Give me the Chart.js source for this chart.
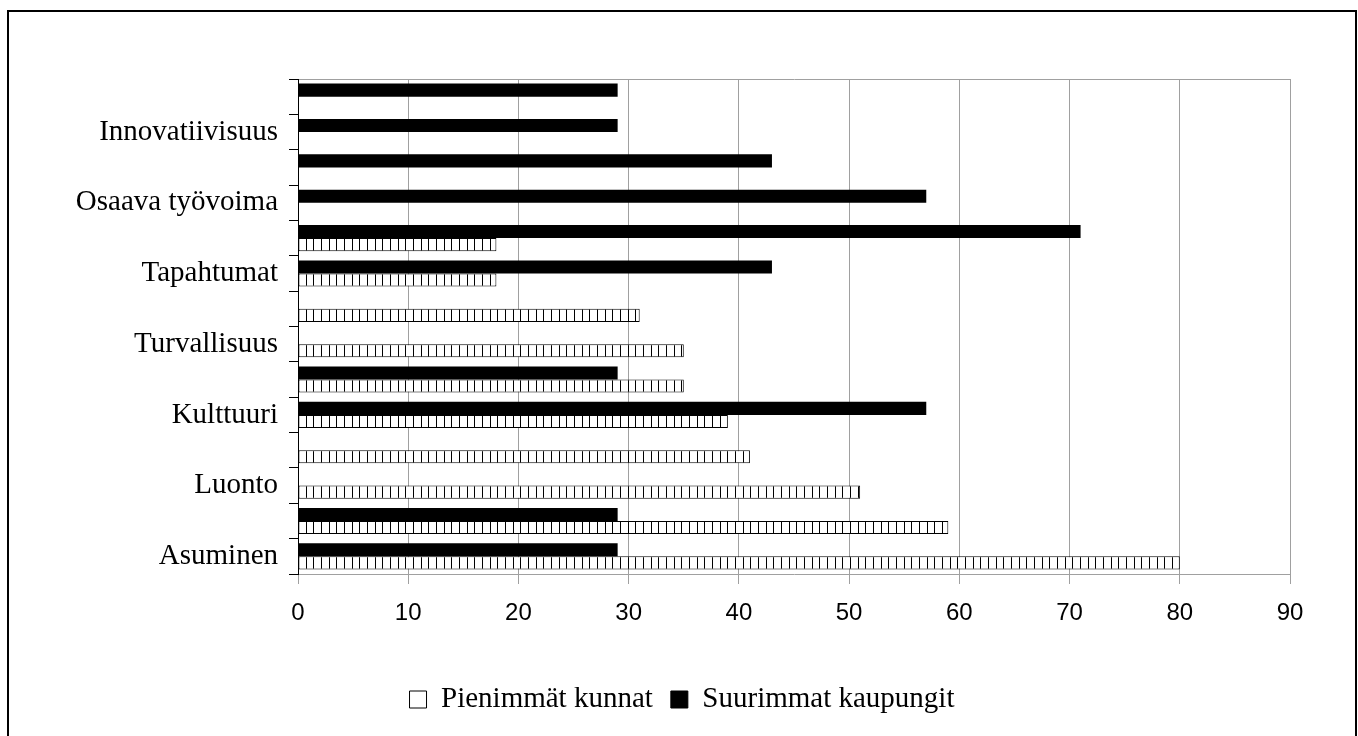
<!DOCTYPE html>
<html>
<head>
<meta charset="utf-8">
<script src="https://cdn.jsdelivr.net/npm/chart.js@4/dist/chart.umd.min.js"></script>
<style>
  html, body { margin: 0; padding: 0; background: #fff; }
  #wrap { position: relative; width: 1358px; height: 736px; }
</style>
</head>
<body>
<div id="wrap"><canvas id="c" width="1358" height="736"></canvas></div>
<script>
// Categories listed top to bottom (labels of alternate categories are not shown in the source)
const categories = ['', 'Innovatiivisuus', '', 'Osaava työvoima', '', 'Tapahtumat', '', 'Turvallisuus', '', 'Kulttuuri', '', 'Luonto', '', 'Asuminen'];
const suurimmatKaupungit = [29, 29, 43, 57, 71, 43, null, null, 29, 57, null, null, 29, 29];
const pienimmatKunnat   = [null, null, null, null, 18, 18, 31, 35, 35, 39, 41, 51, 59, 80];
const seriesNames = ['Pienimmät kunnat', 'Suurimmat kaupungit'];
const xMin = 0, xMax = 90, xStep = 10;

// hatch pattern (vertical lines on white)
const tile = document.createElement('canvas');
tile.width = 23; tile.height = 4;
const tc = tile.getContext('2d');
tc.fillStyle = '#fff'; tc.fillRect(0, 0, 23, 4);
tc.fillStyle = '#000';
[0, 8, 15].forEach(x => tc.fillRect(x, 0, 1, 4));
const ctx = document.getElementById('c').getContext('2d');
const hatch = ctx.createPattern(tile, 'repeat');
hatch.setTransform(new DOMMatrix([1, 0, 0, 1, 298, 0]));

const GRAY = '#a0a0a0';

const frame = {
  id: 'frame',
  beforeDraw(chart) {
    const c = chart.ctx;
    c.save();
    c.fillStyle = '#fff';
    c.fillRect(0, 0, chart.width, chart.height);
    c.restore();
  },
  afterDraw(chart) {
    const c = chart.ctx;
    c.save();
    c.strokeStyle = '#000';
    c.lineWidth = 2;
    c.strokeRect(8, 11, 1348, 740);
    c.restore();
  },
  afterLayout(chart) {
    const lg = chart.legend;
    if (!lg) return;
    const d = 682 - (lg.left + lg.right) / 2;
    lg.left += d; lg.right += d;
  }
};

new Chart(ctx, {
  type: 'bar',
  data: {
    labels: categories,
    datasets: [
      {
        label: seriesNames[1],
        data: suurimmatKaupungit,
        backgroundColor: '#000',
        borderColor: '#000',
        borderWidth: 0,
        barPercentage: 1,
        categoryPercentage: 0.74
      },
      {
        label: seriesNames[0],
        data: pienimmatKunnat,
        backgroundColor: hatch,
        borderColor: '#000',
        borderWidth: 1,
        borderSkipped: false,
        barPercentage: 1,
        categoryPercentage: 0.74
      }
    ]
  },
  options: {
    indexAxis: 'y',
    responsive: false,
    animation: false,
    devicePixelRatio: 1,
    layout: { padding: { left: 8, right: 68, top: 79, bottom: 12 } },
    scales: {
      x: {
        min: xMin, max: xMax,
        ticks: { stepSize: xStep, color: '#000', padding: 15,
          font: { family: '"Liberation Sans", Arial, sans-serif', size: 24 } },
        grid: { color: GRAY, tickColor: GRAY, tickLength: 10, lineWidth: 1 },
        border: { color: GRAY, width: 1 },
        afterFit(s) { s.height = 93; }
      },
      y: {
        ticks: { autoSkip: false, color: '#000', padding: 11,
          font: { family: '"Liberation Serif", "Times New Roman", serif', size: 29 } },
        grid: {
          offset: true,
          drawOnChartArea: true,
          color: (c) => c.index === 0 ? GRAY : 'rgba(0,0,0,0)',
          tickColor: '#000',
          tickLength: 9,
          lineWidth: 1
        },
        border: { color: '#000', width: 1 },
        afterFit(s) { s.width = 290; }
      }
    },
    plugins: {
      tooltip: { enabled: false },
      legend: {
        position: 'bottom',
        reverse: true,
        labels: {
          color: '#000',
          boxWidth: 17,
          boxHeight: 17,
          padding: 18,
          font: { family: '"Liberation Serif", "Times New Roman", serif', size: 29 },
          generateLabels(chart) {
            const items = Chart.defaults.plugins.legend.labels.generateLabels(chart);
            items.forEach(it => {
              if (it.text === seriesNames[0]) { it.fillStyle = '#fff'; it.strokeStyle = '#000'; it.lineWidth = 1; }
              else { it.fillStyle = '#000'; it.strokeStyle = '#000'; it.lineWidth = 1; }
            });
            return items;
          }
        }
      }
    }
  },
  plugins: [frame]
});
</script>
</body>
</html>
